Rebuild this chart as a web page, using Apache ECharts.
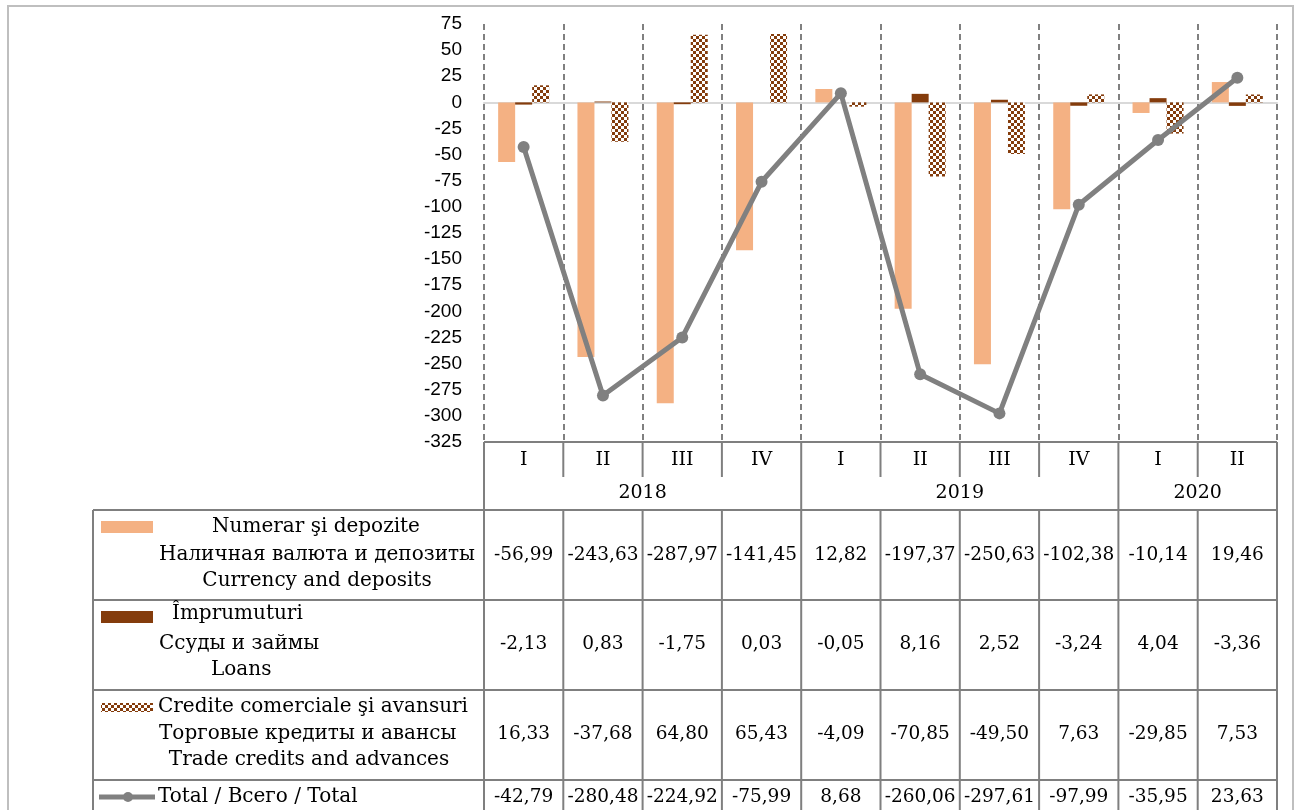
<!DOCTYPE html>
<html>
<head>
<meta charset="utf-8">
<script src="https://cdn.jsdelivr.net/npm/echarts@6/dist/echarts.min.js"></script>
<style>
html, body { margin: 0; padding: 0; background: #fff; }
#chart { width: 1298px; height: 810px; }
</style>
</head>
<body>
<div id="chart"></div>
<script>
// data
var quarters = ['I', 'II', 'III', 'IV', 'I', 'II', 'III', 'IV', 'I', 'II'];
var years = ['2018', '2019', '2020'];
var yearSpan = [4, 4, 2];
var currency = [-56.99, -243.63, -287.97, -141.45, 12.82, -197.37, -250.63, -102.38, -10.14, 19.46];
var loans = [-2.13, 0.83, -1.75, 0.03, -0.05, 8.16, 2.52, -3.24, 4.04, -3.36];
var trade = [16.33, -37.68, 64.80, 65.43, -4.09, -70.85, -49.50, 7.63, -29.85, 7.53];
var total = [-42.79, -280.48, -224.92, -75.99, 8.68, -260.06, -297.61, -97.99, -35.95, 23.63];

var labelCurrency = ['Numerar şi depozite', 'Наличная валюта и депозиты', 'Currency and deposits'];
var labelLoans = ['Împrumuturi', 'Ссуды и займы', 'Loans'];
var labelTrade = ['Credite comerciale şi avansuri', 'Торговые кредиты и авансы', 'Trade credits and advances'];
var labelTotal = 'Total / Всего / Total';

var cOrange = '#F4B183', cBrown = '#843C0C', cLine = '#808080', cGrid = '#7f7f7f';
var serif = "'DejaVu Serif', serif";

// checker pattern for trade credits
var pc = document.createElement('canvas');
pc.width = 6; pc.height = 6;
var pctx = pc.getContext('2d');
pctx.fillStyle = '#fff';
pctx.fillRect(0, 0, 6, 6);
pctx.fillStyle = cBrown;
pctx.fillRect(0, 0, 3, 3);
pctx.fillRect(3, 3, 3, 3);
var checker = { image: pc, repeat: 'repeat' };

var gLeft = 484, gRight = 1277, gTop = 24, gBottom = 442;

var chart = echarts.init(document.getElementById('chart'));
chart.setOption({
	animation: false,
	grid: { left: gLeft, right: 1298 - gRight, top: gTop, bottom: 810 - gBottom },
	xAxis: {
		type: 'category',
		data: quarters,
		axisLine: { onZero: true, lineStyle: { color: '#d9d9d9', width: 2 } },
		axisTick: { show: false },
		axisLabel: { show: false },
		splitLine: { show: true, lineStyle: { color: cLine, width: 2, type: [6, 4] } }
	},
	yAxis: {
		type: 'value',
		min: -325, max: 75, interval: 25,
		axisLine: { show: false },
		axisTick: { show: false },
		splitLine: { show: false },
		axisLabel: { color: '#000', fontSize: 19, fontFamily: "'Liberation Sans', sans-serif", margin: 22 }
	},
	series: [
		{ type: 'bar', data: currency, barWidth: 17, barGap: '0%', itemStyle: { color: cOrange } },
		{ type: 'bar', data: loans, barWidth: 17, barGap: '0%', itemStyle: { color: cBrown } },
		{ type: 'bar', data: trade, barWidth: 17, barGap: '0%', itemStyle: { color: checker } },
		{
			type: 'line', data: total, z: 5,
			symbol: 'circle', symbolSize: 12,
			lineStyle: { color: cLine, width: 5 },
			itemStyle: { color: cLine }
		}
	]
});

// table under the plot
var rowTop = [510, 600, 690, 780];
var tableLeft = 93;
var bounds = [];
for (var i = 0; i <= quarters.length; i++) {
	bounds.push(gLeft + (gRight - gLeft) * i / quarters.length);
}
var centers = quarters.map(function(q, i) {
	return chart.convertToPixel({ xAxisIndex: 0 }, i);
});

var els = [];
function line(x1, y1, x2, y2, col, w) {
	els.push({ type: 'line', shape: { x1: x1, y1: y1, x2: x2, y2: y2 }, style: { stroke: col || cGrid, lineWidth: w || 2 }, silent: true });
}
function text(str, x, y, size, align) {
	els.push({ type: 'text', x: x, y: y, style: { text: str, font: size + 'px ' + serif, fill: '#000', textAlign: align || 'center', textVerticalAlign: 'middle' }, silent: true });
}

// outer frame
els.push({ type: 'rect', shape: { x: 8, y: 6, width: 1285, height: 830 }, style: { fill: null, stroke: '#bfbfbf', lineWidth: 2 }, silent: true });

// header rows
line(gLeft, gBottom, gRight, gBottom);
bounds.forEach(function(b) { line(b, gBottom, b, 477); });
line(gLeft, gBottom, gLeft, 810);
line(gRight, gBottom, gRight, 810);
quarters.forEach(function(q, i) { text(q, centers[i], 460, 19); });
var k = 0;
years.forEach(function(y, j) {
	var x0 = bounds[k], x1 = bounds[k + yearSpan[j]];
	text(y, (x0 + x1) / 2, 493, 19);
	line(x1, 477, x1, 510);
	k += yearSpan[j];
});

// value rows
rowTop.forEach(function(t) { line(tableLeft, t, gRight, t); });
line(tableLeft, 510, tableLeft, 810);
bounds.forEach(function(b) { line(b, 510, b, 810); });

function fmt(v) { return v.toFixed(2).replace('.', ','); }
var rows = [currency, loans, trade, total];
var rowMid = [555, 644, 734, 797];
rows.forEach(function(r, j) {
	r.forEach(function(v, i) { text(fmt(v), centers[i], rowMid[j], 18.5); });
});

// row labels with legend keys
els.push({ type: 'rect', shape: { x: 101, y: 521, width: 52, height: 12 }, style: { fill: cOrange }, silent: true });
text(labelCurrency[0], 316, 527, 20);
text(labelCurrency[1], 317, 555, 20);
text(labelCurrency[2], 317, 581, 20);

els.push({ type: 'rect', shape: { x: 101, y: 611, width: 52, height: 12 }, style: { fill: cBrown }, silent: true });
text(labelLoans[0], 172, 614, 20, 'left');
text(labelLoans[1], 159, 644, 20, 'left');
text(labelLoans[2], 211, 670, 20, 'left');

els.push({ type: 'rect', shape: { x: 101, y: 703, width: 52, height: 9 }, style: { fill: checker }, silent: true });
text(labelTrade[0], 158, 707, 20, 'left');
text(labelTrade[1], 159, 734, 20, 'left');
text(labelTrade[2], 309, 760, 20);

line(99, 797, 155, 797, cLine, 5);
els.push({ type: 'circle', shape: { cx: 128, cy: 797, r: 5 }, style: { fill: cLine }, silent: true });
text(labelTotal, 158, 797, 20, 'left');

chart.setOption({ graphic: { elements: els } });
</script>
</body>
</html>
